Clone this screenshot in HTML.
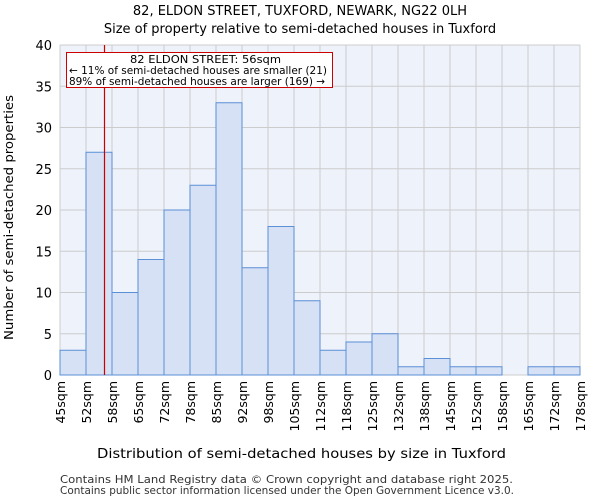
<!DOCTYPE html>
<html><head><meta charset="utf-8"><style>
body{margin:0;background:#fff;font-family:"DejaVu Sans","Liberation Sans",sans-serif}
</style></head><body>
<svg width="600" height="500" xmlns="http://www.w3.org/2000/svg" font-family="DejaVu Sans, Liberation Sans, sans-serif">
<text x="300" y="15" text-anchor="middle" font-size="13">82, ELDON STREET, TUXFORD, NEWARK, NG22 0LH</text>
<text x="300" y="33" text-anchor="middle" font-size="13">Size of property relative to semi-detached houses in Tuxford</text>
<rect x="60" y="45" width="520" height="330" fill="#eef2fb"/>
<g id="grid"></g>
<g id="bars"></g>
<g id="axes"></g>
<line x1="104.5" y1="45" x2="104.5" y2="375" stroke="#cc0000" stroke-width="1.2"/>
<g>
<rect x="66.5" y="52.5" width="266" height="35" fill="#fff" stroke="#cc0000" stroke-width="1"/>
<text x="130" y="63" font-size="10.5" textLength="151" lengthAdjust="spacingAndGlyphs">82 ELDON STREET: 56sqm</text>
<text x="69" y="74" font-size="10.5" textLength="258" lengthAdjust="spacingAndGlyphs">← 11% of semi-detached houses are smaller (21)</text>
<text x="69" y="85" font-size="10.5" textLength="256" lengthAdjust="spacingAndGlyphs">89% of semi-detached houses are larger (169) →</text>
</g>
<text x="97" y="458" font-size="13" textLength="409" lengthAdjust="spacingAndGlyphs">Distribution of semi-detached houses by size in Tuxford</text>
<text transform="translate(13,340) rotate(-90)" font-size="12.5" textLength="245" lengthAdjust="spacingAndGlyphs">Number of semi-detached properties</text>
<text x="60" y="483" font-size="10.5" fill="#333" textLength="453" lengthAdjust="spacingAndGlyphs">Contains HM Land Registry data © Crown copyright and database right 2025.</text>
<text x="60" y="494" font-size="10.5" fill="#333" textLength="454" lengthAdjust="spacingAndGlyphs">Contains public sector information licensed under the Open Government Licence v3.0.</text>
</svg>
<script>
const categories=["45sqm","52sqm","58sqm","65sqm","72sqm","78sqm","85sqm","92sqm","98sqm","105sqm","112sqm","118sqm","125sqm","132sqm","138sqm","145sqm","152sqm","158sqm","165sqm","172sqm","178sqm"];
const counts=[3,27,10,14,20,23,33,13,18,9,3,4,5,1,2,1,1,0,1,1];
const yTicks=[0,5,10,15,20,25,30,35,40];
const NS="http://www.w3.org/2000/svg";
const x0=60,x1=580,yb=375,yt=45,yMax=40;
const bw=(x1-x0)/counts.length;
const xs=i=>x0+i*bw;
const ys=v=>yb-(v/yMax)*(yb-yt);
function mk(tag,attrs,parent){const e=document.createElementNS(NS,tag);for(const k in attrs)e.setAttribute(k,attrs[k]);document.getElementById(parent).appendChild(e);return e;}
yTicks.forEach(t=>{
 const l=mk('line',{x1:x0,x2:x1,y1:ys(t),y2:ys(t),stroke:'#cccccc','stroke-width':1},'grid');
 
 
 const tx=mk('text',{x:x0-8,y:ys(t)+5,'text-anchor':'end','font-size':13},'axes');
 tx.textContent=t;
 
 
});
categories.forEach((c,i)=>{
 const gx=xs(i);
 const l=mk('line',{x1:gx,x2:gx,y1:yt,y2:yb,stroke:'#cccccc','stroke-width':1},'grid');
 
 
 const tx=mk('text',{transform:`translate(${gx+5},381) rotate(-90)`,'text-anchor':'end','font-size':12.5},'axes');
 tx.textContent=c;
 
 
});
counts.forEach((v,i)=>{
 if(v<=0)return;
 const r=mk('rect',{x:xs(i),y:ys(v),width:bw,height:yb-ys(v),fill:'#d6e1f5',stroke:'#5b8fd6','stroke-width':1},'bars');
 
 
});
</script>
</body></html>
